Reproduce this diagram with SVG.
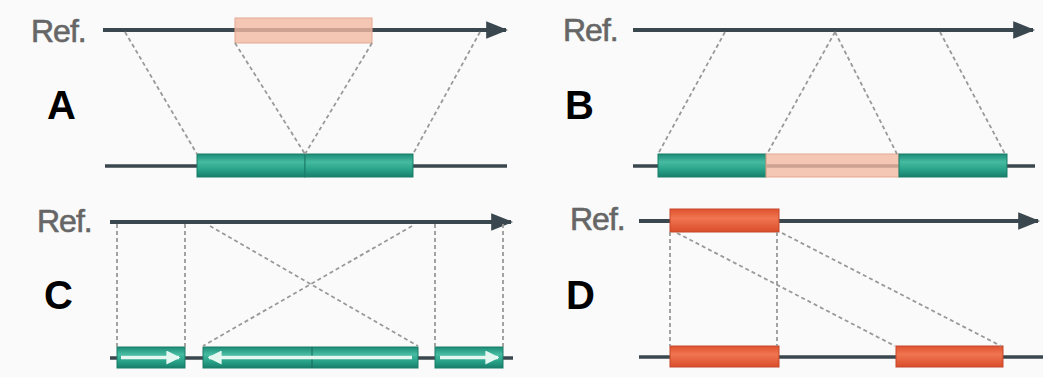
<svg xmlns="http://www.w3.org/2000/svg" width="1043" height="377" viewBox="0 0 1043 377">
<defs>
<linearGradient id="teal" x1="0" y1="0" x2="0" y2="1">
<stop offset="0" stop-color="#1c8b76"/>
<stop offset="0.35" stop-color="#46bba1"/>
<stop offset="0.65" stop-color="#2aa58b"/>
<stop offset="1" stop-color="#177f6c"/>
</linearGradient>
<linearGradient id="red" x1="0" y1="0" x2="0" y2="1">
<stop offset="0" stop-color="#e0522f"/>
<stop offset="0.4" stop-color="#f07550"/>
<stop offset="1" stop-color="#da4d2b"/>
</linearGradient>
<marker id="ah" viewBox="0 0 10 8" refX="9" refY="4" markerWidth="5.5" markerHeight="4.4" markerUnits="strokeWidth" orient="auto">
<path d="M0,0 L10,4 L0,8 Z" fill="#3a474e"/>
</marker>
<marker id="wa" viewBox="0 0 10 10" refX="9" refY="5" markerWidth="4" markerHeight="4" markerUnits="strokeWidth" orient="auto">
<path d="M0,0 L10,5 L0,10 Z" fill="#e4f8f1"/>
</marker>
</defs>
<style>
.ref{font-family:"Liberation Sans",Arial,sans-serif;font-size:32px;fill:#666;stroke:#666;stroke-width:0.6;letter-spacing:-1px}
.lab{font-family:"Liberation Sans",Arial,sans-serif;font-size:40px;font-weight:bold;fill:#000}
.refline{stroke:#3a474e;stroke-width:4;fill:none}
.bb{stroke:#3a474e;stroke-width:3.5;fill:none}
.dash{stroke:#999;stroke-width:1.8;stroke-dasharray:4 3;fill:none}
.teal{fill:url(#teal);stroke:#1b7c69;stroke-width:1}
.red{fill:url(#red);stroke:#c2462a;stroke-width:1}
.pink{fill:#f2b9a2;fill-opacity:0.8;stroke:#e4a890;stroke-width:1}
.div{stroke:#15695a;stroke-width:1}
.warr{stroke:#e4f8f1;stroke-width:3.5;fill:none}
</style>
<rect width="1043" height="377" fill="#fafafa"/>

<g id="panelA">
<g id="A-ref">
<text class="ref" x="31" y="42">Ref.</text>
<line class="refline" x1="103" y1="30" x2="506" y2="30" marker-end="url(#ah)"/>
</g>
<g id="A-label"><text class="lab" x="47" y="119">A</text></g>
<g id="A-insert"><rect class="pink" x="235" y="18" width="137" height="25"/></g>
<g id="A-query">
<line class="bb" x1="105" y1="166" x2="507" y2="166"/>
<rect class="teal" x="197" y="154" width="108" height="23"/>
<rect class="teal" x="305" y="154" width="108" height="23"/>
</g>
</g>

<g id="panelB">
<g id="B-ref">
<text class="ref" x="563" y="41">Ref.</text>
<line class="refline" x1="633" y1="30" x2="1033" y2="30" marker-end="url(#ah)"/>
</g>
<g id="B-label"><text class="lab" x="565" y="119">B</text></g>
<g id="B-query">
<line class="bb" x1="633" y1="166" x2="1035" y2="166"/>
<rect class="teal" x="658" y="154" width="108" height="23"/>
<rect class="pink" x="766" y="154" width="133" height="23"/>
<rect class="teal" x="899" y="154" width="108" height="23"/>
</g>
</g>

<g id="panelC">
<g id="C-ref">
<text class="ref" x="37" y="232">Ref.</text>
<line class="refline" x1="110" y1="222" x2="511" y2="222" marker-end="url(#ah)"/>
</g>
<g id="C-label"><text class="lab" x="44" y="309">C</text></g>
<g id="C-query">
<line class="bb" x1="110" y1="358" x2="513" y2="358"/>
<rect class="teal" x="117" y="347" width="68" height="21"/>
<rect class="teal" x="203" y="347" width="215" height="21"/>
<line class="div" x1="312" y1="347" x2="312" y2="368"/>
<rect class="teal" x="435" y="347" width="68" height="21"/>
<line class="warr" x1="121" y1="357.5" x2="179" y2="357.5" marker-end="url(#wa)"/>
<line class="warr" x1="412" y1="357.5" x2="209" y2="357.5" marker-end="url(#wa)"/>
<line class="warr" x1="440" y1="357.5" x2="498" y2="357.5" marker-end="url(#wa)"/>
</g>
</g>

<g id="panelD">
<g id="D-ref">
<text class="ref" x="570" y="230">Ref.</text>
<line class="refline" x1="639" y1="221" x2="1038" y2="221" marker-end="url(#ah)"/>
<rect class="red" x="670" y="209" width="109" height="23"/>
</g>
<g id="D-label"><text class="lab" x="566" y="309">D</text></g>
<g id="D-query">
<line class="bb" x1="639" y1="357" x2="1043" y2="357"/>
<rect class="red" x="670" y="346" width="109" height="21"/>
<rect class="red" x="896" y="346" width="107" height="21"/>
</g>
</g>

<g id="connectors">
<line class="dash" x1="125" y1="32" x2="197" y2="154"/>
<line class="dash" x1="235" y1="43" x2="305" y2="154"/>
<line class="dash" x1="372" y1="43" x2="305" y2="154"/>
<line class="dash" x1="480" y1="32" x2="413" y2="154"/>

<line class="dash" x1="725" y1="32" x2="658" y2="154"/>
<line class="dash" x1="835" y1="32" x2="767" y2="154"/>
<line class="dash" x1="835" y1="32" x2="897" y2="154"/>
<line class="dash" x1="940" y1="32" x2="1005" y2="154"/>

<line class="dash" x1="117" y1="224" x2="117" y2="347"/>
<line class="dash" x1="185" y1="224" x2="185" y2="347"/>
<line class="dash" x1="435" y1="224" x2="435" y2="347"/>
<line class="dash" x1="503" y1="224" x2="503" y2="347"/>
<line class="dash" x1="210" y1="226" x2="418" y2="346"/>
<line class="dash" x1="412" y1="226" x2="203" y2="346"/>

<line class="dash" x1="670" y1="232" x2="670" y2="346"/>
<line class="dash" x1="777" y1="232" x2="777" y2="346"/>
<line class="dash" x1="677" y1="233" x2="895" y2="346"/>
<line class="dash" x1="782" y1="233" x2="1001" y2="346"/>
</g>
</svg>
